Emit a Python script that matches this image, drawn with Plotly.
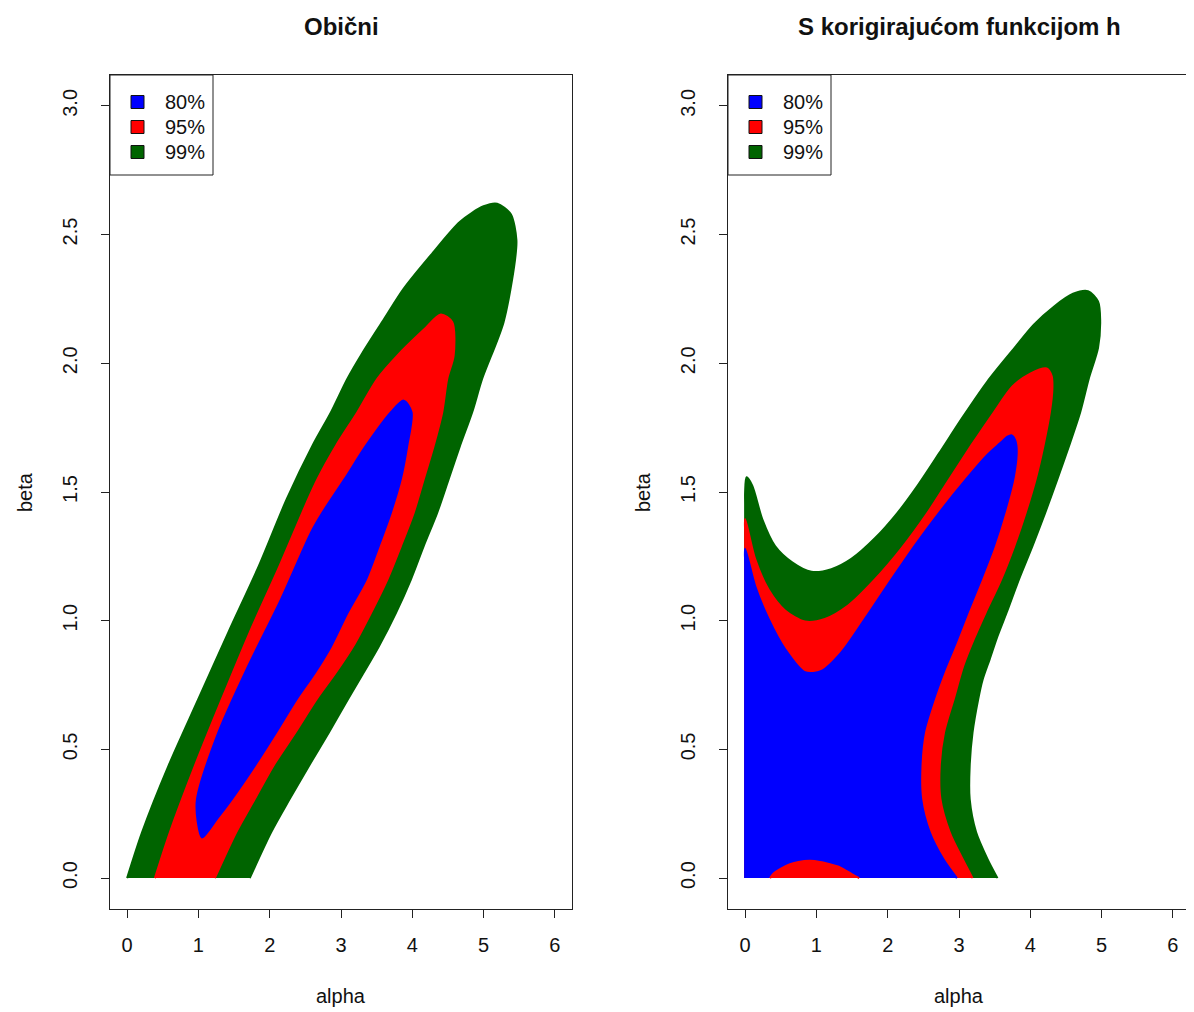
import plotly.graph_objects as go

# ---------------- data ----------------
panel_titles = ["Obični", "S korigirajućom funkcijom h"]
x_label = "alpha"
y_label = "beta"
x_ticks = [0, 1, 2, 3, 4, 5, 6]
y_ticks = [0.0, 0.5, 1.0, 1.5, 2.0, 2.5, 3.0]
y_tick_text = ["0.0", "0.5", "1.0", "1.5", "2.0", "2.5", "3.0"]
legend_labels = ["80%", "95%", "99%"]
legend_colors = ["#0000FF", "#FF0000", "#006400"]

# Left panel (Obični): region outlines (alpha, beta)
green_L_alpha = [0.00, 0.21, 0.58, 1.00, 1.42, 1.85, 2.24, 2.60, 2.86, 3.09, 3.30, 3.60, 3.88, 4.26,
                 4.67, 5.00, 5.19, 5.38, 5.46, 5.44, 5.28, 4.98, 4.84, 4.67, 4.51, 4.35, 4.16, 3.98,
                 3.77, 3.53, 3.30, 3.10, 2.83, 2.55, 2.28, 2.02, 1.72]
green_L_beta = [0.00, 0.178, 0.436, 0.696, 0.955, 1.214, 1.473, 1.68, 1.81, 1.94, 2.04, 2.17, 2.29,
                2.42, 2.55, 2.61, 2.62, 2.58, 2.48, 2.40, 2.16, 1.94, 1.81, 1.68, 1.55, 1.42, 1.29,
                1.16, 1.03, 0.90, 0.79, 0.696, 0.566, 0.436, 0.307, 0.178, 0.00]

red_L_alpha = [0.39, 0.60, 0.95, 1.33, 1.72, 2.14, 2.52, 2.67, 2.93, 3.23, 3.51, 3.79, 4.16, 4.40,
               4.56, 4.58, 4.49, 4.42, 4.30, 4.16, 4.02, 3.84, 3.65, 3.42, 3.19, 2.93, 2.66,
               2.36, 2.05, 1.79, 1.53, 1.23]
red_L_beta = [0.00, 0.178, 0.436, 0.696, 0.955, 1.214, 1.46, 1.55, 1.68, 1.81, 1.94, 2.03, 2.13,
              2.19, 2.16, 2.03, 1.94, 1.81, 1.68, 1.55, 1.42, 1.29, 1.16, 1.03, 0.91, 0.80, 0.696,
              0.566, 0.436, 0.307, 0.178, 0.00]

blue_L_alpha = [1.05, 0.99, 0.98, 1.28, 1.70, 2.16, 2.58, 2.74, 3.05, 3.35, 3.70, 3.88, 3.99, 3.93,
                3.84, 3.70, 3.53, 3.35, 3.09, 2.86, 2.64, 2.38, 2.09, 1.79, 1.47, 1.26, 1.05]
blue_L_beta = [0.158, 0.22, 0.307, 0.566, 0.825, 1.084, 1.343, 1.42, 1.55, 1.68, 1.81, 1.855, 1.81,
               1.68, 1.55, 1.42, 1.29, 1.16, 1.03, 0.90, 0.80, 0.696, 0.566, 0.436, 0.307, 0.23,
               0.158]

# Right panel (S korigirajućom funkcijom h)
green_R_alpha = [0.00, 0.00, 0.00, 0.02, 0.10, 0.24, 0.42, 0.66, 0.93, 1.21, 1.49, 1.82, 2.14, 2.42,
                 2.72, 3.05, 3.40, 3.75, 4.05, 4.33, 4.60, 4.81, 4.95, 4.98, 4.95, 4.82, 4.70, 4.545,
                 4.38, 4.21, 4.03, 3.84, 3.68, 3.54, 3.43, 3.33, 3.27, 3.19, 3.15, 3.15, 3.24, 3.40,
                 3.54]
green_R_beta = [0.00, 1.45, 1.50, 1.557, 1.525, 1.395, 1.29, 1.227, 1.19, 1.20, 1.24, 1.32, 1.42,
                1.525, 1.65, 1.79, 1.93, 2.05, 2.15, 2.22, 2.27, 2.28, 2.24, 2.17, 2.06, 1.94, 1.81,
                1.68, 1.55, 1.42, 1.29, 1.16, 1.04, 0.94, 0.85, 0.77, 0.696, 0.566, 0.436, 0.307,
                0.178, 0.074, 0.00]

red_R_alpha = [0.00, 0.00, 0.00, 0.14, 0.33, 0.56, 0.84, 1.12, 1.45, 1.82, 2.19, 2.56, 2.84, 3.17,
               3.49, 3.75, 4.00, 4.23, 4.30, 4.31, 4.275, 4.185, 4.075, 3.935, 3.775, 3.59, 3.37,
               3.21, 3.06, 2.93, 2.79, 2.73, 2.74, 2.87, 3.05, 3.19]
red_R_beta = [0.00, 1.34, 1.395, 1.24, 1.12, 1.04, 0.997, 1.007, 1.06, 1.16, 1.28, 1.42, 1.54, 1.68,
              1.81, 1.91, 1.96, 1.98, 1.95, 1.90, 1.81, 1.68, 1.55, 1.42, 1.29, 1.16, 1.03, 0.93,
              0.825, 0.70, 0.566, 0.436, 0.307, 0.178, 0.074, 0.00]

blue_R_alpha = [0.00, 0.00, 0.00, 0.14, 0.33, 0.56, 0.84, 1.07, 1.35, 1.68, 2.05, 2.40, 2.75, 3.10,
                3.40, 3.58, 3.68, 3.74, 3.79, 3.81, 3.77, 3.64, 3.49, 3.31, 3.12, 2.95, 2.80, 2.65,
                2.51, 2.46, 2.47, 2.59, 2.78, 2.97]
blue_R_beta = [0.00, 1.22, 1.28, 1.136, 1.007, 0.89, 0.80, 0.805, 0.877, 1.007, 1.16, 1.30, 1.43,
               1.55, 1.645, 1.69, 1.715, 1.72, 1.70, 1.66, 1.56, 1.42, 1.29, 1.16, 1.03, 0.91, 0.81,
               0.696, 0.566, 0.436, 0.307, 0.178, 0.074, 0.00]

# small 95% patch at the bottom of the right panel
bump_R_alpha = [0.35, 0.40, 0.49, 0.63, 0.75, 0.91, 1.05, 1.19, 1.30, 1.42, 1.50, 1.60]
bump_R_beta = [0.00, 0.018, 0.035, 0.054, 0.063, 0.067, 0.063, 0.054, 0.045, 0.028, 0.015, 0.00]

# ---------------- figure ----------------
OFF = 8                      # page body margin of the html page
W, H = 1194 - OFF, 1012 - OFF
FONT = "Liberation Sans, Arial, Helvetica, sans-serif"
TXT = "#111111"


def px(xp):
    return (xp - OFF) / W


def py(yp):
    return 1 - (yp - OFF) / H


fig = go.Figure()


def region(xs, ys, color, xa, ya):
    fig.add_trace(go.Scatter(
        x=xs, y=ys, mode="lines", fill="toself", fillcolor=color,
        line=dict(color=color, width=2, shape="spline", smoothing=0.8),
        xaxis=xa, yaxis=ya, hoverinfo="skip", showlegend=False))


region(green_L_alpha, green_L_beta, legend_colors[2], "x", "y")
region(red_L_alpha, red_L_beta, legend_colors[1], "x", "y")
region(blue_L_alpha, blue_L_beta, legend_colors[0], "x", "y")

region(green_R_alpha, green_R_beta, legend_colors[2], "x2", "y2")
region(red_R_alpha, red_R_beta, legend_colors[1], "x2", "y2")
region(blue_R_alpha, blue_R_beta, legend_colors[0], "x2", "y2")
region(bump_R_alpha, bump_R_beta, legend_colors[1], "x2", "y2")

# pixel layout of the two plot boxes (screen pixels)
box_L = (110, 572)
box_R = (728, 1190)
box_top, box_bot = 75, 909

ydom = [py(box_bot), py(box_top)]

axis_common = dict(
    range=[-0.24, 6.24], tickvals=x_ticks, ticks="outside", ticklen=8, tickwidth=1,
    tickcolor="#222", showline=True, linecolor="#222", linewidth=1, mirror=True,
    showgrid=False, zeroline=False, tickfont=dict(family=FONT, size=20, color=TXT),
    ticklabelstandoff=10, fixedrange=True)
yaxis_common = dict(
    range=[-0.12, 3.12], tickvals=y_ticks, ticktext=y_tick_text, ticks="outside", ticklen=8,
    tickwidth=1, tickcolor="#222", showline=True, linecolor="#222", linewidth=1, mirror=True,
    showgrid=False, zeroline=False, tickangle=-90,
    tickfont=dict(family=FONT, size=20, color=TXT), ticklabelstandoff=16, fixedrange=True)

fig.update_layout(
    width=W, height=H, margin=dict(l=0, r=0, t=0, b=0),
    paper_bgcolor="white", plot_bgcolor="white", showlegend=False,
    xaxis=dict(domain=[px(box_L[0]), px(box_L[1])], anchor="y", **axis_common),
    yaxis=dict(domain=ydom, anchor="x", **yaxis_common),
    xaxis2=dict(domain=[px(box_R[0]), px(box_R[1])], anchor="y2", **axis_common),
    yaxis2=dict(domain=ydom, anchor="x2", **yaxis_common),
)

annotations = []
shapes = []
for i, (bl, br) in enumerate([box_L, box_R]):
    cx = (bl + br) / 2
    annotations.append(dict(text="<b>" + panel_titles[i] + "</b>", x=px(cx), y=py(27),
                            xref="paper", yref="paper", showarrow=False, xanchor="center",
                            yanchor="middle", font=dict(family=FONT, size=24, color=TXT)))
    annotations.append(dict(text=x_label, x=px(cx), y=py(996), xref="paper", yref="paper",
                            showarrow=False, xanchor="center", yanchor="middle",
                            font=dict(family=FONT, size=20, color=TXT)))
    annotations.append(dict(text=y_label, x=px(bl - 85), y=py(492), xref="paper",
                            yref="paper", showarrow=False, xanchor="center", yanchor="middle",
                            textangle=-90, font=dict(family=FONT, size=20, color=TXT)))
    # legend box
    shapes.append(dict(type="rect", xref="paper", yref="paper", x0=px(bl), x1=px(bl + 103),
                       y0=py(175), y1=py(box_top), line=dict(color="#222", width=1),
                       fillcolor="white", layer="above"))
    for j, (lab, col) in enumerate(zip(legend_labels, legend_colors)):
        cy = 102 + 25 * j
        shapes.append(dict(type="rect", xref="paper", yref="paper", x0=px(bl + 21),
                           x1=px(bl + 34), y0=py(cy + 6.5), y1=py(cy - 6.5),
                           line=dict(color="#111", width=1), fillcolor=col, layer="above"))
        annotations.append(dict(text=lab, x=px(bl + 53), y=py(cy), xref="paper",
                                yref="paper", showarrow=False, xanchor="left", yanchor="middle",
                                font=dict(family=FONT, size=20, color=TXT)))

fig.update_layout(annotations=annotations, shapes=shapes)
fig.write_html("out.html")
